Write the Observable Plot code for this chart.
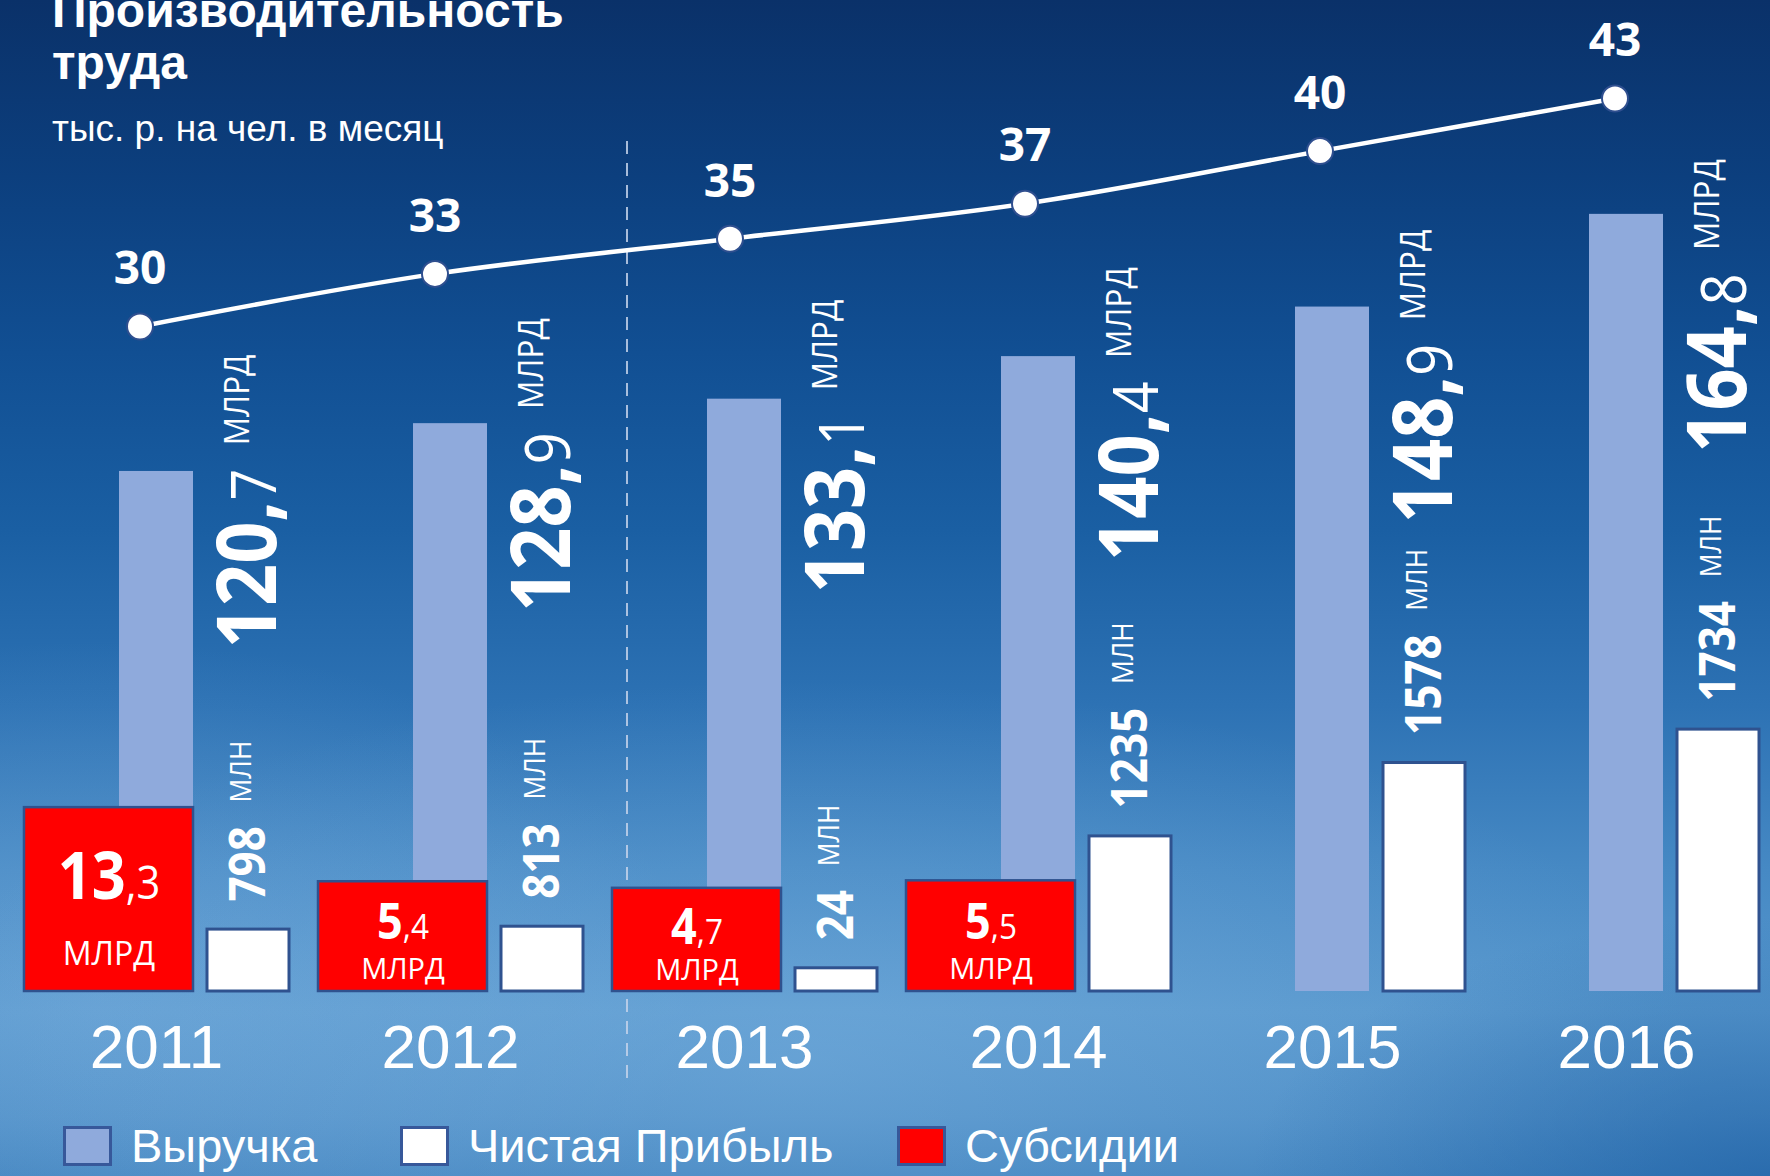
<!DOCTYPE html>
<html lang="ru">
<head>
<meta charset="utf-8">
<title>Производительность труда</title>
<script src="https://cdn.jsdelivr.net/npm/d3@7"></script>
<script src="https://cdn.jsdelivr.net/npm/@observablehq/plot@0.6"></script>
<style>
  html, body { margin: 0; padding: 0; background: #0b346c; }
  #chart {
    position: relative; width: 1770px; height: 1176px; overflow: hidden;
    background:
      radial-gradient(ellipse 520px 260px at 1770px 1176px, rgba(25,90,160,0.55), rgba(25,90,160,0) 100%),
      radial-gradient(ellipse 900px 380px at 800px 1060px, rgba(140,190,232,0.35), rgba(140,190,232,0) 100%),
      radial-gradient(ellipse 600px 360px at 100px 1000px, rgba(130,180,225,0.35), rgba(130,180,225,0) 100%),
      linear-gradient(to bottom, #0a3169 0%, #0c3f7e 15%, #114f93 30%, #1a5fa3 45%, #2d72b4 60%, #4689c4 74%, #5797cd 86%, #4c8dc6 95%, #3f82be 100%);
  }
  #chart svg { position: absolute; left: 0; top: 0; }
  .title { position: absolute; left: 52px; top: -15px; margin: 0; color: #fff;
    font: bold 48px/52px "Liberation Sans", Arial, sans-serif; white-space: pre; }
  .subtitle { position: absolute; left: 52px; top: 109px; margin: 0; color: #fff;
    font: 37px/40px "Liberation Sans", Arial, sans-serif; white-space: nowrap; }
  .legend-item { position: absolute; top: 1126px; height: 40px; display: flex; align-items: center; color: #fff;
    font: 47px/40px "Liberation Sans", Arial, sans-serif; white-space: nowrap; }
  .legend-swatch { width: 43px; height: 34px; border: 3px solid #37589a; margin-right: 19px; box-sizing: content-box; }
</style>
</head>
<body>
<div id="chart"></div>
<script>
// ---------------- data ----------------
const years = ["2011", "2012", "2013", "2014", "2015", "2016"];
const revenue = [120.7, 128.9, 133.1, 140.4, 148.9, 164.8];      // Выручка, млрд
const netProfit = [798, 813, 24, 1235, 1578, 1734];              // Чистая Прибыль, млн
const subsidyYears = ["2011", "2012", "2013", "2014"];
const subsidies = [13.3, 5.4, 4.7, 5.5];                          // Субсидии, млрд
const productivity = [30, 33, 35, 37, 40, 43];                    // тыс. р. на чел. в месяц
const legendLabels = ["Выручка", "Чистая Прибыль", "Субсидии"];
const titleText = "Производительность\nтруда";
const subtitleText = "тыс. р. на чел. в месяц";
const unitBn = "МЛРД";
const unitMn = "МЛН";

// ---------------- styles ----------------
const COLORS = { revenue: "#8faadc", profit: "#ffffff", subsidy: "#ff0000", edge: "#2f528f", text: "#ffffff" };
const legendColors = [COLORS.revenue, COLORS.profit, COLORS.subsidy];
const legendLeft = [63, 400, 897];

const revRows = years.map((year, i) => ({ year, value: revenue[i] }));
const profitRows = years.map((year, i) => ({ year, value: netProfit[i] }));
const subRows = subsidyYears.map((year, i) => ({ year, value: subsidies[i] }));
const prodRows = years.map((year, i) => ({ year, value: productivity[i] }));

const split = v => v.toFixed(1).split(".");

const W = 1770, H = 1176;
const X = { type: "band", domain: years, range: [8, 1773], padding: 0, axis: null };
function layer(y, marks, x = X) {
  return Plot.plot({
    width: W, height: H, margin: 0,
    x, y: { ...y, axis: null },
    style: { background: "transparent", color: "#fff", overflow: "visible" },
    marks
  });
}

const NS = "http://www.w3.org/2000/svg";
function rich(svg, spec, stretch) {
  svg.querySelectorAll("text").forEach(t => {
    const s = t.textContent;
    if (!s.includes("|")) return;
    const parts = s.split("|");
    t.textContent = "";
    parts.forEach((p, i) => {
      const ts = document.createElementNS(NS, "tspan");
      ts.textContent = p;
      const a = spec[i] || {};
      for (const k in a) ts.setAttribute(k, a[k]);
      t.appendChild(ts);
    });
    if (stretch) t.setAttribute("transform", (t.getAttribute("transform") || "") + ` scale(${stretch},1)`);
  });
}

// ---------------- layer 1: revenue ----------------
const revBase = 31.5;
const revMean = d3.mean(revenue);
const revLayer = layer({ type: "linear", domain: [revBase, 170], range: [991, 991 - (170 - revBase) * 5.83] }, [
  Plot.ruleX(["2013"], { x: d => d, dx: -117.5, stroke: "#c4d2ea", strokeOpacity: 0.85, strokeWidth: 2,
    strokeDasharray: "13,9", insetTop: 141, insetBottom: 92 }),
  Plot.barY(revRows, { x: "year", y1: revBase, y2: "value", fill: COLORS.revenue, insetLeft: 110, insetRight: 110 }),
  Plot.text(revRows, { x: "year", y: d => d.value - 0.24 * (d.value - revMean),
    text: d => { const [a, b] = split(d.value); return `${a},|${b}|${unitBn}`; },
    rotate: -90, textAnchor: "start", dx: 93, dy: 203, fill: COLORS.text, fontSize: 82, fontWeight: "bold",
    fontFamily: "Open Sans, sans-serif" }),
  Plot.text(years, { x: d => d, frameAnchor: "bottom", lineAnchor: "middle", dy: -128, fill: COLORS.text, fontSize: 62,
    fontFamily: "Liberation Sans, Arial, sans-serif" })
]);
rich(revLayer, [{}, { "font-size": 62, "font-weight": "normal" }, { "font-size": 35, "font-weight": "normal", dx: 26, dy: -27 }], 0.9);

// ---------------- layer 2: subsidies ----------------
const subBase = -6.3;
const subLayer = layer({ type: "linear", domain: [subBase, 15], range: [991, 991 - (15 - subBase) * 9.38] }, [
  Plot.barY(subRows, { x: "year", y1: subBase, y2: "value", fill: COLORS.subsidy, stroke: COLORS.edge, strokeWidth: 2.5,
    insetLeft: 15, insetRight: 110 }),
  Plot.text(subRows, { x: "year", y: d => subBase + (d.value - subBase) * 0.62,
    text: d => { const [a, b] = split(d.value); return `${a}|,${b}`; },
    dx: -47.5, fill: COLORS.text, fontSize: d => d.value > 10 ? 66 : 50, fontWeight: "bold", fontFamily: "Open Sans, sans-serif" }),
  Plot.text(subRows, { x: "year", y: d => subBase + (d.value - subBase) * 0.2, text: () => unitBn,
    dx: -47.5, fill: COLORS.text, fontSize: d => d.value > 10 ? 32 : 29, fontFamily: "Open Sans, sans-serif" })
]);
rich(subLayer, [{}, { "font-size": "0.7em", "font-weight": "normal" }], 0.9);

// ---------------- layer 3: net profit ----------------
const profitLayer = layer({ type: "linear", domain: [-110, 0, 800, 1800], range: [991, 969, 929, 715] }, [
  Plot.barY(profitRows, { x: "year", y1: -110, y2: "value", fill: COLORS.profit, stroke: COLORS.edge, strokeWidth: 3,
    insetLeft: 198, insetRight: 14 }),
  Plot.text(profitRows, { x: "year", y: "value", text: d => `${d.value}|${unitMn}`,
    rotate: -90, textAnchor: "start", dx: 92, dy: -28, fill: COLORS.text, fontSize: 50, fontWeight: "bold",
    fontFamily: "Open Sans, sans-serif" })
]);
rich(profitLayer, [{}, { "font-size": 30, "font-weight": "normal", dx: 27, dy: -14 }], 0.88);

// ---------------- layer 4: productivity line ----------------
const XL = { ...X, range: [-10.6, 1764.7] };
const lineLayer = layer({ type: "linear", domain: [30, 43], range: [326, 98] }, [
  Plot.line(prodRows, { x: "year", y: "value", stroke: "#fff", strokeWidth: 4.5, curve: "catmull-rom" }),
  Plot.dot(prodRows, { x: "year", y: "value", r: 13, fill: "#fff", stroke: "#2f4f8f", strokeWidth: 2 }),
  Plot.text(prodRows, { x: "year", y: "value", text: d => String(d.value), dy: -57, fill: COLORS.text,
    fontSize: 46, fontWeight: "bold", fontFamily: "Open Sans, sans-serif" })
], XL);

const chart = document.getElementById("chart");
chart.append(revLayer, subLayer, profitLayer, lineLayer);

// ---------------- title, subtitle, legend ----------------
const title = document.createElement("div");
title.className = "title"; title.textContent = titleText;
const subtitle = document.createElement("div");
subtitle.className = "subtitle"; subtitle.textContent = subtitleText;
chart.append(title, subtitle);

legendLabels.forEach((label, i) => {
  const item = document.createElement("div");
  item.className = "legend-item";
  item.style.left = legendLeft[i] + "px";
  const sw = document.createElement("span");
  sw.className = "legend-swatch";
  sw.style.background = legendColors[i];
  const tx = document.createElement("span");
  tx.textContent = label;
  item.append(sw, tx);
  chart.append(item);
});
</script>
</body>
</html>
